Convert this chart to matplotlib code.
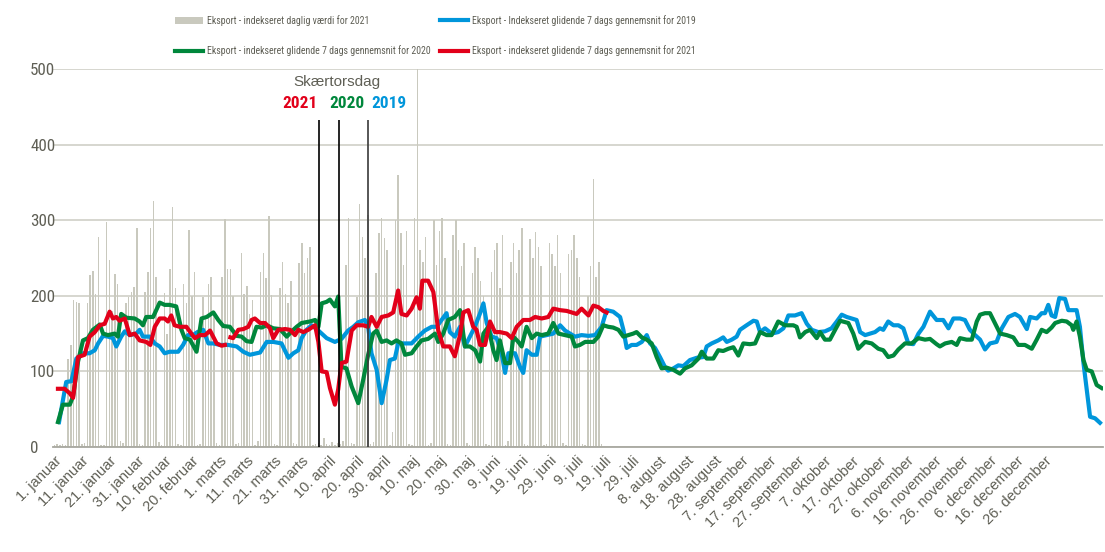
import matplotlib
matplotlib.use("Agg")
import matplotlib.pyplot as plt
from matplotlib import font_manager
import numpy as np

# smal skrift hvis den findes, ellers almindelig
names = {f.name for f in font_manager.fontManager.ttflist}
narrow = "Liberation Sans"
for cand in ["Liberation Sans Narrow", "Arial Narrow", "Roboto Condensed", "Open Sans Condensed",
             "Noto Sans Condensed"]:
    if cand in names:
        narrow = cand
        break
plt.rcParams['font.family'] = [narrow, 'DejaVu Sans']

# x-akse etiketter (hver 10. kategori)
tick_labels = ["1. januar", "11. januar", "21. januar", "31. januar", "10. februar", "20. februar",
               "1. marts", "11. marts", "21. marts", "31. marts", "10. april", "20. april",
               "30. april", "10. maj", "20. maj", "30. maj", "9. juni", "19. juni", "29. juni",
               "9. juli", "19. juli", "29. juli", "8. august", "18. august", "28. august",
               "7. september", "17. september", "27. september", "7. oktober", "17. oktober",
               "27. oktober", "6. november", "16. november", "26. november", "6. december",
               "16. december", "26. december"]

# daglig vaerdi 2021 (uge for uge)
daily_2021 = [3, 4, 3, 4, 2, 117, 135,
              194, 192, 190, 4, 5, 190, 227,
              233, 202, 278, 3, 2, 298, 248,
              180, 229, 216, 8, 5, 190, 199,
              205, 212, 290, 4, 3, 205, 231,
              290, 326, 225, 6, 3, 204, 150,
              236, 318, 210, 4, 3, 216, 190,
              287, 200, 232, 3, 4, 199, 170,
              215, 225, 180, 5, 3, 225, 301,
              236, 236, 200, 4, 5, 256, 203,
              213, 176, 194, 3, 8, 232, 256,
              224, 305, 201, 4, 3, 210, 245,
              203, 190, 219, 5, 4, 244, 270,
              230, 250, 265, 3, 4, 5, 3,
              12, 4, 3, 6, 3, 5, 4,
              8, 241, 303, 5, 4, 199, 322,
              278, 250, 307, 4, 6, 230, 283,
              303, 276, 260, 3, 20, 300, 360,
              283, 241, 286, 4, 3, 303, 500,
              260, 245, 278, 3, 5, 300, 241,
              286, 303, 250, 4, 3, 280, 300,
              260, 240, 270, 5, 3, 230, 265,
              250, 220, 200, 4, 3, 232, 260,
              270, 210, 280, 3, 8, 245, 270,
              230, 260, 290, 4, 3, 275, 250,
              285, 265, 240, 3, 4, 270, 255,
              240, 280, 230, 5, 3, 255, 260,
              280, 250, 225, 4, 3, 200, 240,
              355, 225, 245, 4]

# 2019 glidende gennemsnit
x_2019 = [1.7, 4.3, 6.2, 8, 10.4, 12.8, 14.7, 15.9, 17.7, 19.5, 21.3, 22.5, 24.3, 25.6, 27.4, 29.8,
          31, 32.2, 34.7, 36.5, 38.3, 40.1, 41.9, 45, 46.8, 48.6, 50.4, 52, 54.1, 56, 57.8, 60.2,
          63.2, 66.3, 68.7, 71.1, 74.8, 77.2, 79.6, 82.6, 85.1, 86.9, 88.7, 89.9, 91.7, 93.5, 95.4,
          97.2, 99, 102, 104.4, 106.8, 108.7, 110.5, 112.9, 114.1, 115.3, 117.2, 119, 120.8, 122,
          123.8, 125, 127.5, 129.9, 132.3, 134.7, 137.2, 139, 140.8, 142.6, 143.8, 145.6, 147.5,
          149.3, 151.1, 152.9, 154.8, 156, 157.2, 159, 160.8, 162.6, 163.9, 165.1, 167.5, 169.3,
          170.5, 171.7, 173.6, 175.4, 176.6, 179, 181.4, 183.9, 185.7, 187.5, 189.3, 191.7, 194.2,
          196.6, 199, 200.8, 203.2, 205.7, 206.9, 208.1, 209.9, 211.7, 213.6, 215.4, 216.6, 218.4,
          220.2, 222, 223.2, 225.1, 226.9, 228.7, 231.1, 233.6, 236, 237.2, 239, 241.4, 243.2,
          244.5, 246.3, 248.1, 249.3, 251.7, 254.2, 255.4, 256.6, 258.4, 260.8, 263.2, 265.1,
          266.9, 269.3, 271.7, 273.6, 275.4, 277.8, 280.2, 282.6, 284.5, 286.3, 288.1, 289.9,
          291.7, 293, 294.8, 296.6, 298.4, 300.2, 301.4, 303.2, 305.1, 306.9, 308.7, 310.5, 312.3,
          314.2, 316, 318.4, 320.8, 323.2, 325.1, 326.9, 329.3, 331.1, 332.9, 334.8, 336.6, 338.4,
          340.2, 342.6, 344.5, 346.9, 349.3, 351.1, 353.6, 354.8, 357.2, 359, 360.2, 361.4, 362.6,
          363.9, 365.4, 367.5, 368.7, 371.7, 372.9, 374.2, 375.4, 376.6, 378.4, 380.2]
y_2019 = [33, 86, 87, 117, 124, 124, 128, 137, 147, 146, 144, 133, 146, 153, 148, 150,
          155, 146, 146, 137, 133, 124, 126, 126, 135, 148, 148, 152, 155, 137, 137, 135,
          135, 133, 126, 122, 125, 139, 139, 137, 118, 124, 128, 144, 155, 161, 156,
          150, 144, 139, 143, 154, 159, 165, 168, 159, 124, 102, 58, 89, 115,
          117, 137, 137, 137, 146, 154, 159, 159, 168, 177, 152, 146, 159,
          133, 146, 159, 177, 190, 164, 146, 144, 124, 98, 124, 124, 106,
          98, 128, 122, 122, 146, 148, 150, 161, 154, 150, 146, 148, 147,
          148, 159, 181, 179, 172, 155, 131, 135, 135, 139, 148, 137, 131,
          119, 106, 101, 104, 108, 107, 115, 118, 119, 133, 137, 141, 145,
          139, 142, 146, 155, 161, 167, 166, 152, 157, 150, 152, 157,
          174, 174, 177, 163, 155, 152, 153, 157, 166, 175, 172, 170,
          168, 152, 148, 150, 152, 157, 155, 166, 161, 161, 157, 137, 136,
          150, 159, 179, 168, 168, 157, 170, 170, 168, 155, 148, 142, 129,
          137, 139, 157, 172, 176, 172, 156, 172, 170, 177, 177, 188, 174,
          172, 197, 196, 181, 181, 159, 111, 76, 40, 38, 32]

# 2020 glidende gennemsnit
x_2020 = [1.3, 3.1, 5.6, 6.8, 8.6, 10.4, 12.2, 14, 16.5, 17.7, 19.5, 21.9, 23.1, 24.3, 26.2, 29.2,
          31, 32.2, 33.4, 35.9, 38.3, 40.1, 41.9, 44.3, 46.2, 47.4, 49.3, 51.7, 53.5, 55.4, 57.8,
          59.6, 61.4, 63.8, 66.3, 68.1, 69.9, 71.7, 73.5, 75.4, 77.2, 79.6, 82, 84.5, 86.3, 88.1,
          89.9, 92.9, 94.8, 96, 97.2, 99, 100.2, 102, 103.2, 104.4, 106.2, 108.1, 110.5, 112.3,
          114.1, 115.9, 117.2, 119, 120.8, 122.6, 124.4, 126.2, 127.5, 129.9, 131.7, 133.5, 135.9,
          138.4, 139.6, 141.4, 143.2, 145.6, 147.5, 149.3, 151.1, 153, 154.8, 156, 157.8, 159.6,
          160.8, 162, 163.9, 165.7, 166.9, 168.7, 169.9, 171.7, 173.6, 175.4, 177.2, 179.6, 181.4,
          183.3, 185.7, 188.1, 189.3, 191.1, 193, 196, 197.8, 199.6, 201.4, 203.2, 205.1, 206.9,
          208.7, 210.5, 211.7, 213.6, 215.4, 217.2, 219, 220.8, 222.6, 225.1, 227.5, 229.3, 231.7,
          234.2, 235.4, 237.2, 239.6, 241.4, 243.2, 245.1, 246.9, 248.7, 250.5, 252.9, 254.8,
          256.6, 259, 260.8, 263.2, 265.7, 268.7, 269.9, 271.1, 273, 274.8, 277.2, 278.4, 280.2,
          282, 283.9, 285.7, 288.7, 290.5, 292.3, 294.8, 297.2, 299.6, 301.4, 303.2, 305.1, 306.9,
          309.3, 311.7, 314.2, 316.6, 318.4, 320.8, 322, 323.9, 326.3, 328.1, 329.3, 331.7, 333.6,
          335.4, 336.6, 338.4, 340.2, 342, 343.9, 346.3, 348.7, 350.5, 352.9, 355.4, 357.2, 359,
          360.8, 362.6, 363.9, 366.3, 368.1, 369.9, 370.5, 371.7, 372.9, 374.2, 375.4, 377.2,
          379, 380.8]
y_2020 = [33, 56, 56, 67, 113, 141, 144, 155, 162, 150, 148, 150, 146, 176, 171, 170,
          166, 161, 172, 172, 191, 188, 188, 186, 155, 144, 142, 126, 170, 172, 178,
          168, 160, 159, 147, 146, 140, 139, 159, 158, 161, 157, 156, 146, 153, 159,
          164, 166, 168, 159, 190, 192, 195, 186, 199, 106, 104, 80, 58, 89,
          122, 150, 154, 139, 141, 137, 141, 137, 122, 124, 133, 141, 143,
          150, 139, 150, 168, 172, 181, 133, 133, 128, 113, 150, 159, 128,
          115, 141, 111, 111, 146, 139, 133, 159, 144, 150, 148, 150, 164,
          150, 148, 146, 133, 135, 139, 139, 146, 161, 159, 158, 155, 146,
          148, 150, 152, 145, 142, 137, 119, 104, 105, 102, 97, 104, 108,
          117, 126, 117, 117, 128, 127, 130, 132, 121, 137, 136, 137,
          152, 148, 148, 166, 161, 161, 159, 145, 152, 155, 144, 152, 142,
          142, 155, 167, 164, 150, 130, 139, 137, 130, 128, 119, 121, 129,
          137, 137, 144, 142, 143, 136, 133, 137, 139, 135, 144, 142, 142,
          166, 175, 177, 177, 164, 150, 148, 145, 135, 135, 130, 142, 155,
          152, 158, 164, 167, 166, 161, 155, 166, 146, 115, 102, 100,
          82, 78]

# 2021 glidende gennemsnit (hul ved manglende data)
x_2021 = [1.3, 3.7, 5.6, 6.8, 8.6, 11, 12.8, 14.7, 16.5, 18.3, 20.1, 21.3, 22.5, 23.7, 25.6, 27.4,
          29.2, 31, 33.4, 34.9, 36.5, 38.3, 40.1, 41.3, 42.5, 43.7, 45.6, 48, 49.8, 51.1, 52.9,
          54.8, 56.6, 59, 60.8, 62, 63, 64, 65, 66.9, 68.7, 70.5, 71.7, 72.9, 74.8, 76.6, 78.4,
          79.6, 81.4, 83.9, 85.7, 87.5, 88.7, 90.5, 92.3, 94.8, 96, 97.2, 99, 100.2, 102, 103.2,
          104.4, 106.2, 108.1, 109.9, 112.3, 114.1, 115.3, 117.2, 119, 121.4, 123.2, 125, 126.2,
          128.1, 129.9, 131.7, 132.9, 133.8, 135.9, 137.8, 139.6, 141.4, 143.8, 145.6, 147.5,
          148.7, 150.5, 152.3, 153.5, 154.8, 156.6, 158.4, 160.2, 162, 164.5, 166.3, 168.1, 170.5,
          172.9, 174.8, 177.2, 179.6, 181.4, 183.9, 186.3, 188.1, 189.9, 191.7, 194.2, 196, 197.8,
          199.6, 200.8]
y_2021 = [77, 77, 71, 65, 119, 122, 146, 152, 161, 163, 179, 170, 172, 167, 170, 148,
          150, 141, 139, 135, 159, 170, 170, 166, 174, 161, 159, 159, 150, 144, 148,
          148, 154, 137, 134, 135, np.nan, 145, 144, 155, 156, 159, 168, 170, 164, 164, 157,
          144, 155, 156, 155, 148, 155, 152, 155, 161, 139, 100, 99, 78, 56, 76,
          111, 113, 154, 161, 161, 159, 172, 159, 172, 174, 178, 207, 176,
          174, 183, 198, 183, 220, 220, 205, 154, 133, 133, 120, 148,
          178, 181, 159, 155, 135, 135, 166, 152, 152, 150, 144, 159, 168,
          168, 172, 170, 172, 183, 181, 180, 178, 176, 183, 174, 187, 185,
          180, 178]

# Skaertorsdag positioner
easter_x = [96.2, 103.5, 114.0]
easter_years = ["2021", "2020", "2019"]

text_gray = "#5f5f55"
c_2019 = "#0096db"
c_2020 = "#00873c"
c_2021 = "#e2001a"
bar_color = "#c9c9be"

fig = plt.figure(figsize=(11.05, 5.52), dpi=100)
renderer = fig.canvas.get_renderer()


def fit_size(s, target_px, **kw):
    # skriftstoerrelse saa teksten faar samme bredde som i forlaegget
    t = fig.text(0, 0, s, fontsize=10, **kw)
    w = t.get_window_extent(renderer=renderer).width
    t.remove()
    return 10 * target_px / w


leg_size = fit_size("Eksport - indekseret glidende 7 dags gennemsnit for 2020", 222)
year_size = fit_size("2021", 35, fontweight="bold")
ytick_size = fit_size("500", 25)

ax = fig.add_axes([53 / 1105, 105 / 552, 1050 / 1105, 378 / 552])

bars = ax.bar(np.arange(len(daily_2021)), daily_2021, width=0.55, color=bar_color,
              zorder=1, label="Eksport - indekseret daglig værdi for 2021")
l2019, = ax.plot(x_2019, y_2019, color=c_2019, lw=3, zorder=3,
                 label="Eksport - Indekseret glidende 7 dags gennemsnit for 2019")
l2020, = ax.plot(x_2020, y_2020, color=c_2020, lw=3, zorder=4,
                 label="Eksport - indekseret glidende 7 dags gennemsnit for 2020")
l2021, = ax.plot(x_2021, y_2021, color=c_2021, lw=3, zorder=5,
                 label="Eksport - indekseret glidende 7 dags gennemsnit for 2021")

# skaertorsdag markering
ax.vlines(easter_x, 0, 432, colors=["black", "black", "#3a3a3a"], lw=1.2, zorder=6)
ax.text(102.8, 483, "Skærtorsdag", ha="center", va="center", fontsize=11,
        family=["Liberation Sans", "DejaVu Sans"], color=text_gray)
for xx, yr, col in zip([89.3, 106.4, 121.7], easter_years, [c_2021, c_2020, c_2019]):
    ax.text(xx, 454, yr, ha="center", va="center", fontsize=year_size, fontweight="bold",
            color=col)

ax.set_xlim(-0.5, 381.3)
ax.set_ylim(0, 500)
ax.set_yticks(range(0, 501, 100))
ax.yaxis.grid(True, color="#d3d3cb", lw=1.3, zorder=0)
ax.set_axisbelow(True)
for s in ["top", "right", "left"]:
    ax.spines[s].set_visible(False)
ax.spines["bottom"].set_color("#a8a8a0")
ax.spines["bottom"].set_linewidth(1.3)

ax.set_xticks(range(0, 361, 10))
ax.set_xticklabels(tick_labels, rotation=45, ha="right", rotation_mode="anchor",
                   fontsize=10.5, color=text_gray, family=["Liberation Sans", "DejaVu Sans"])
ax.tick_params(axis="x", length=0, pad=5)
ax.tick_params(axis="y", length=0, pad=16.5, labelsize=ytick_size, labelcolor=text_gray)
for lab in ax.get_yticklabels():
    lab.set_ha("left")

# legende i to kolonner
leg_kw = dict(loc="upper left", frameon=False, fontsize=leg_size, labelcolor=text_gray,
              handlelength=28 / (leg_size * 100 / 72), handletextpad=0.45,
              labelspacing=(29 / (leg_size * 100 / 72)) - 1.0, borderpad=0, borderaxespad=0)
fig.legend(handles=[bars, l2020], bbox_to_anchor=(175 / 1105, 1 - 15 / 552), **leg_kw)
fig.legend(handles=[l2019, l2021], bbox_to_anchor=(440 / 1105, 1 - 15 / 552), **leg_kw)

fig.savefig("out.png", dpi=100)
